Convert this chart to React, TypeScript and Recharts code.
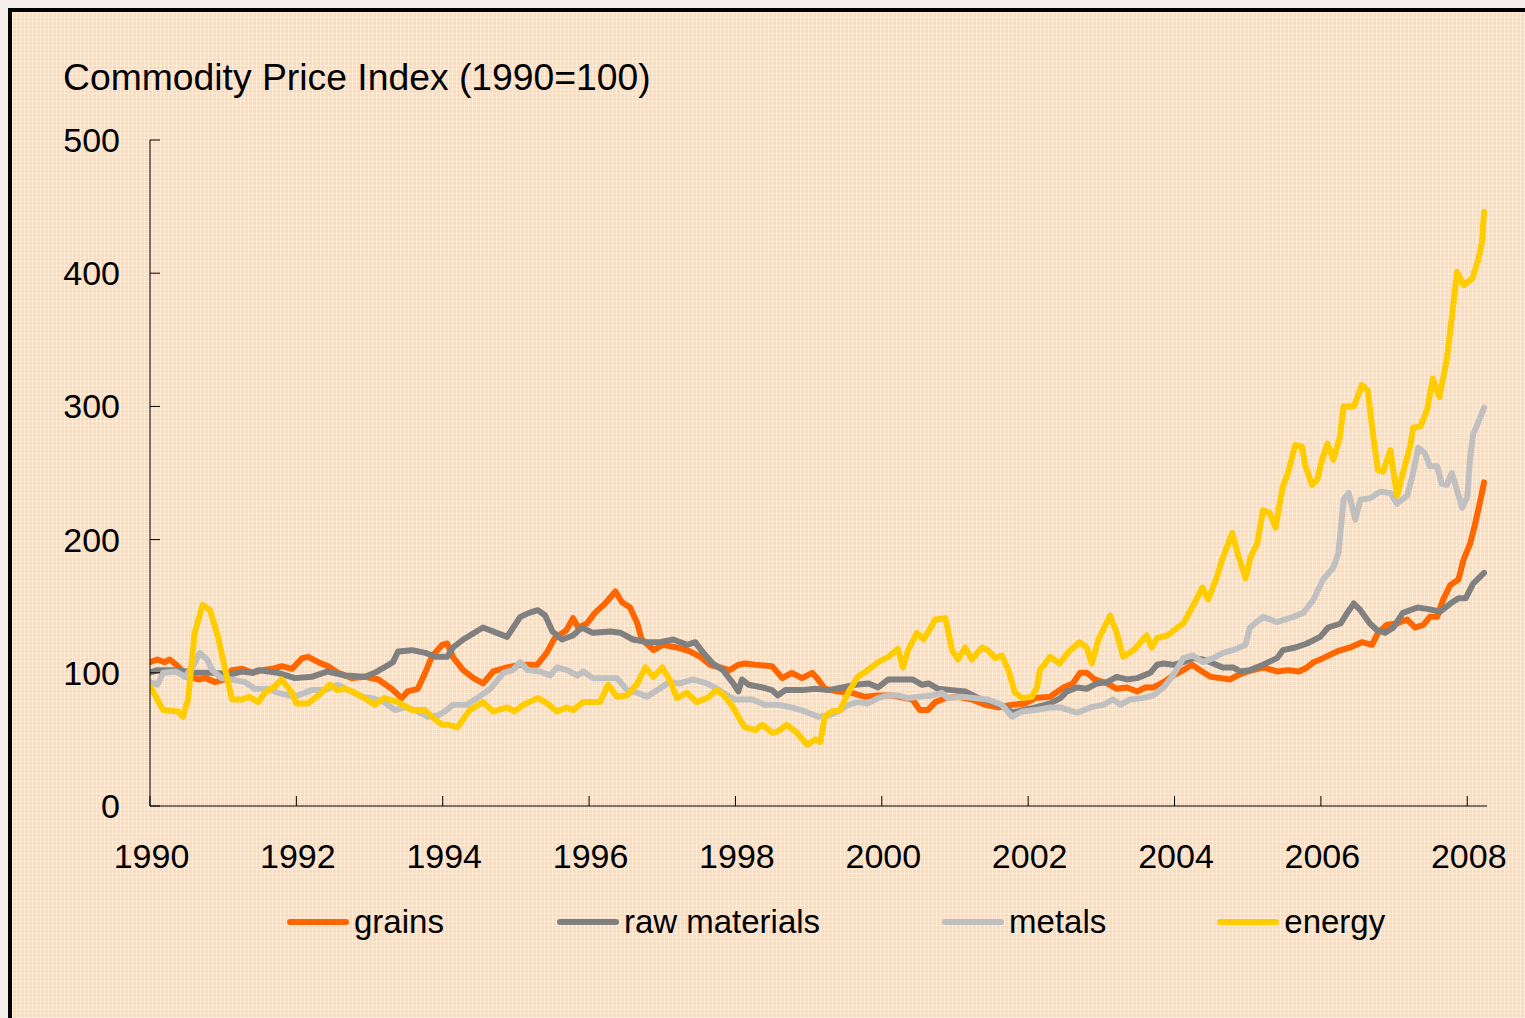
import React from "react";
import { LineChart, Line, XAxis, YAxis } from "recharts";

const yearTicks = [1990, 1992, 1994, 1996, 1998, 2000, 2002, 2004, 2006, 2008];
const valueTicks = [0, 100, 200, 300, 400, 500];

const seriesNames = ["grains", "raw materials", "metals", "energy"];
const seriesColors = ["#FF6600", "#808080", "#C0C0C0", "#FFCC00"];

const grains: [number, number][] = [
  [1990.0,108],[1990.1,110],[1990.2,108],[1990.27,110],[1990.38,105],[1990.52,97],[1990.66,95],[1990.76,96],[1990.89,93],[1991.02,95],[1991.12,102],[1991.26,103],[1991.4,100],[1991.53,102],[1991.67,103],[1991.8,105],[1991.94,103],[1992.08,111],[1992.16,112],[1992.3,108],[1992.43,105],[1992.57,100],[1992.76,96],[1992.94,97],[1993.12,95],[1993.3,88],[1993.44,81],[1993.52,86],[1993.66,88],[1993.76,100],[1993.85,112],[1993.99,121],[1994.06,122],[1994.15,111],[1994.28,102],[1994.42,96],[1994.55,92],[1994.69,101],[1994.88,104],[1995.06,106],[1995.29,106],[1995.42,115],[1995.53,126],[1995.69,132],[1995.78,141],[1995.85,134],[1995.97,137],[1996.08,145],[1996.22,152],[1996.36,161],[1996.45,153],[1996.56,149],[1996.66,137],[1996.72,125],[1996.88,117],[1997.01,121],[1997.2,119],[1997.38,116],[1997.52,112],[1997.65,106],[1997.79,104],[1997.92,102],[1998.04,106],[1998.13,107],[1998.27,106],[1998.5,105],[1998.64,96],[1998.77,100],[1998.91,96],[1999.05,100],[1999.13,95],[1999.22,88],[1999.4,86],[1999.59,85],[1999.77,82],[1999.95,83],[2000.14,83],[2000.32,81],[2000.42,80],[2000.52,72],[2000.63,72],[2000.73,78],[2000.87,81],[2001.04,82],[2001.23,80],[2001.41,76],[2001.59,74],[2001.78,76],[2001.96,77],[2002.1,81],[2002.3,82],[2002.48,89],[2002.61,92],[2002.71,100],[2002.8,100],[2002.91,95],[2003.08,92],[2003.21,88],[2003.35,89],[2003.49,86],[2003.6,89],[2003.71,89],[2003.85,93],[2003.98,98],[2004.12,102],[2004.24,106],[2004.35,102],[2004.49,97],[2004.63,96],[2004.76,95],[2004.86,98],[2004.99,101],[2005.21,104],[2005.4,101],[2005.55,102],[2005.7,101],[2005.81,104],[2005.9,108],[2006.03,111],[2006.22,116],[2006.4,119],[2006.56,123],[2006.7,121],[2006.78,130],[2006.9,136],[2007.04,137],[2007.18,140],[2007.29,134],[2007.4,136],[2007.49,142],[2007.59,142],[2007.67,155],[2007.77,166],[2007.88,170],[2007.95,185],[2008.04,197],[2008.1,210],[2008.17,227],[2008.23,243]
];

const rawMaterials: [number, number][] = [
  [1990,100],[1990.1,102],[1990.38,102],[1990.6,100],[1990.85,100],[1991.12,99],[1991.26,101],[1991.4,100],[1991.48,102],[1991.62,101],[1991.75,100],[1991.98,96],[1992.21,97],[1992.43,101],[1992.67,98],[1992.94,97],[1993.07,100],[1993.2,104],[1993.32,108],[1993.39,116],[1993.58,117],[1993.76,115],[1993.9,112],[1994.06,112],[1994.14,119],[1994.28,125],[1994.55,134],[1994.88,127],[1995.06,142],[1995.18,145],[1995.3,147],[1995.4,143],[1995.5,131],[1995.63,125],[1995.78,128],[1995.9,134],[1996.05,130],[1996.29,131],[1996.43,130],[1996.6,125],[1996.79,123],[1996.97,123],[1997.15,125],[1997.34,121],[1997.45,123],[1997.56,115],[1997.69,107],[1997.83,102],[1997.97,92],[1998.04,86],[1998.09,95],[1998.18,91],[1998.37,89],[1998.5,87],[1998.58,83],[1998.68,87],[1998.91,87],[1999.09,88],[1999.27,87],[1999.46,89],[1999.64,91],[1999.82,92],[1999.95,89],[2000.09,95],[2000.28,95],[2000.42,95],[2000.55,91],[2000.64,92],[2000.77,88],[2000.96,87],[2001.14,86],[2001.32,81],[2001.51,78],[2001.69,74],[2001.78,70],[2001.92,72],[2002.1,74],[2002.3,77],[2002.44,81],[2002.53,86],[2002.67,89],[2002.8,88],[2002.94,92],[2003.08,93],[2003.21,97],[2003.35,95],[2003.49,96],[2003.67,100],[2003.76,106],[2003.85,107],[2003.98,106],[2004.12,108],[2004.25,111],[2004.39,110],[2004.53,107],[2004.66,104],[2004.8,104],[2004.9,101],[2005.03,102],[2005.21,106],[2005.4,111],[2005.48,117],[2005.65,119],[2005.81,122],[2005.99,127],[2006.1,134],[2006.27,137],[2006.36,145],[2006.45,152],[2006.54,147],[2006.67,137],[2006.77,132],[2006.88,130],[2006.99,134],[2007.12,145],[2007.32,149],[2007.45,148],[2007.63,146],[2007.77,152],[2007.88,156],[2007.98,156],[2008.08,167],[2008.23,175]
];

const metals: [number, number][] = [
  [1990,93],[1990.1,91],[1990.18,100],[1990.35,101],[1990.48,97],[1990.61,107],[1990.68,115],[1990.78,110],[1990.85,102],[1990.98,96],[1991.12,95],[1991.3,93],[1991.43,88],[1991.61,88],[1991.75,85],[1991.89,83],[1992.02,83],[1992.21,87],[1992.39,87],[1992.57,91],[1992.71,87],[1992.9,82],[1993.03,81],[1993.2,78],[1993.35,72],[1993.48,74],[1993.62,72],[1993.8,67],[1993.94,68],[1994.03,71],[1994.14,76],[1994.33,76],[1994.47,81],[1994.65,88],[1994.83,100],[1994.96,102],[1995.06,108],[1995.16,102],[1995.33,101],[1995.47,98],[1995.56,104],[1995.7,102],[1995.84,98],[1995.92,101],[1996.05,96],[1996.24,96],[1996.38,96],[1996.52,87],[1996.66,85],[1996.79,82],[1996.93,87],[1997.1,93],[1997.24,92],[1997.42,95],[1997.61,92],[1997.75,88],[1997.92,82],[1997.99,80],[1998.23,80],[1998.4,76],[1998.58,76],[1998.77,74],[1998.95,71],[1999.13,67],[1999.27,68],[1999.4,71],[1999.54,76],[1999.67,78],[1999.81,77],[1999.95,81],[2000.09,83],[2000.22,83],[2000.36,81],[2000.5,82],[2000.69,83],[2000.82,85],[2000.9,81],[2001.1,82],[2001.27,81],[2001.45,80],[2001.64,76],[2001.78,67],[2001.92,71],[2002.1,72],[2002.3,74],[2002.44,74],[2002.67,70],[2002.85,74],[2003.03,76],[2003.16,80],[2003.26,76],[2003.39,80],[2003.56,81],[2003.71,83],[2003.85,89],[2003.98,98],[2004.12,111],[2004.25,113],[2004.39,108],[2004.53,111],[2004.66,115],[2004.8,117],[2004.97,121],[2005.03,134],[2005.21,142],[2005.4,138],[2005.62,142],[2005.76,145],[2005.9,155],[2006.03,170],[2006.17,179],[2006.24,190],[2006.31,230],[2006.38,235],[2006.47,215],[2006.54,230],[2006.67,231],[2006.81,236],[2006.95,235],[2007.04,227],[2007.18,233],[2007.26,250],[2007.33,269],[2007.42,265],[2007.49,255],[2007.59,255],[2007.65,242],[2007.72,241],[2007.79,250],[2007.86,237],[2007.93,224],[2008.0,232],[2008.04,262],[2008.08,279],[2008.15,288],[2008.23,299]
];

const energy: [number, number][] = [
  [1990,90],[1990.1,80],[1990.18,72],[1990.38,71],[1990.45,67],[1990.52,80],[1990.61,130],[1990.72,151],[1990.82,147],[1990.93,127],[1991.03,102],[1991.12,80],[1991.26,80],[1991.35,82],[1991.48,78],[1991.57,85],[1991.71,90],[1991.8,95],[1991.94,85],[1992.0,77],[1992.16,77],[1992.3,83],[1992.46,91],[1992.56,87],[1992.67,88],[1992.76,86],[1992.9,82],[1993.07,76],[1993.2,81],[1993.39,78],[1993.58,72],[1993.76,72],[1993.85,67],[1993.99,61],[1994.08,61],[1994.2,59],[1994.37,72],[1994.55,78],[1994.69,71],[1994.88,74],[1994.98,71],[1995.1,76],[1995.3,81],[1995.43,77],[1995.56,71],[1995.69,74],[1995.78,72],[1995.92,78],[1996.15,78],[1996.26,91],[1996.38,82],[1996.52,83],[1996.66,92],[1996.77,104],[1996.88,97],[1997.0,104],[1997.1,95],[1997.2,81],[1997.34,85],[1997.47,78],[1997.61,81],[1997.75,87],[1997.84,83],[1997.97,74],[1998.06,65],[1998.13,59],[1998.27,57],[1998.37,61],[1998.5,55],[1998.58,56],[1998.7,61],[1998.84,55],[1998.98,46],[1999.09,50],[1999.16,48],[1999.22,67],[1999.32,71],[1999.43,72],[1999.54,85],[1999.67,97],[1999.81,102],[1999.95,108],[2000.09,112],[2000.22,118],[2000.29,104],[2000.36,117],[2000.48,130],[2000.57,125],[2000.69,136],[2000.73,140],[2000.87,141],[2000.96,117],[2001.04,110],[2001.14,119],[2001.23,110],[2001.37,119],[2001.45,117],[2001.55,111],[2001.64,113],[2001.73,102],[2001.82,85],[2001.92,81],[2002.05,82],[2002.12,89],[2002.16,102],[2002.3,112],[2002.43,107],[2002.54,115],[2002.7,123],[2002.8,119],[2002.87,107],[2002.96,125],[2003.12,143],[2003.21,130],[2003.3,112],[2003.44,117],[2003.62,128],[2003.69,119],[2003.76,126],[2003.9,128],[2004.04,134],[2004.12,137],[2004.21,146],[2004.27,152],[2004.38,164],[2004.46,155],[2004.58,172],[2004.65,185],[2004.79,205],[2004.86,190],[2004.97,171],[2005.04,187],[2005.13,197],[2005.21,222],[2005.3,220],[2005.38,209],[2005.48,240],[2005.55,250],[2005.65,271],[2005.74,270],[2005.79,255],[2005.88,241],[2005.95,245],[2006.02,261],[2006.09,272],[2006.17,260],[2006.26,277],[2006.31,300],[2006.45,300],[2006.56,316],[2006.64,312],[2006.71,280],[2006.78,252],[2006.85,251],[2006.95,267],[2007.04,233],[2007.13,252],[2007.22,270],[2007.26,284],[2007.36,285],[2007.45,297],[2007.53,321],[2007.62,307],[2007.72,335],[2007.79,367],[2007.86,401],[2007.95,391],[2008.07,396],[2008.15,410],[2008.2,423],[2008.23,446]
];

const allSeries = [grains, rawMaterials, metals, energy];

const FONT = "'Liberation Sans', Arial, sans-serif";

const XTick = (props: any) => {
  const { x, y, payload } = props;
  return (
    <g>
      <line x1={x} x2={x} y1={y} y2={y - 10} stroke="#000" strokeWidth={1} />
      <text x={x + 1.5} y={y + 62} textAnchor="middle" fontFamily={FONT} fontSize={34} fill="#000">
        {payload.value}
      </text>
    </g>
  );
};

const YTick = (props: any) => {
  const { x, y, payload } = props;
  return (
    <g>
      <line x1={x} x2={x + 10} y1={y} y2={y} stroke="#000" strokeWidth={1} />
      <text x={x - 30} y={y + 12} textAnchor="end" fontFamily={FONT} fontSize={34} fill="#000">
        {payload.value}
      </text>
    </g>
  );
};

const bg =
  "repeating-linear-gradient(90deg, rgba(255,250,244,0.5) 0px, rgba(255,250,244,0.5) 1px, transparent 1px, transparent 4px)," +
  "repeating-linear-gradient(0deg, rgba(255,250,244,0.5) 0px, rgba(255,250,244,0.5) 1px, transparent 1px, transparent 4px)," +
  "#F9DBBE";

const legendGaps = [0, 113, 122, 111];

export default function App() {
  const lineData = allSeries.map((s) => s.map(([x, v]) => ({ x, v })));
  return (
    <div style={{ position: "fixed", inset: 0, background: "#F4EFEB", overflow: "hidden" }}>
      <div
        style={{
          position: "absolute",
          left: 8,
          top: 8,
          width: 1517,
          height: 1010,
          boxSizing: "border-box",
          borderLeft: "4px solid #000",
          borderTop: "4px solid #000",
          background: bg,
        }}
      >
        <div
          style={{
            position: "absolute",
            left: 51,
            top: 47,
            fontFamily: FONT,
            fontSize: 37.3,
            lineHeight: 1,
            color: "#000",
            whiteSpace: "nowrap",
          }}
        >
          Commodity Price Index (1990=100)
        </div>
        <div style={{ position: "absolute", left: 0, top: 0 }}>
          <LineChart width={1513} height={900} margin={{ top: 128, right: 38, left: 0, bottom: 0 }}>
            <XAxis
              type="number"
              dataKey="x"
              domain={[1990, 2008.27]}
              ticks={yearTicks}
              interval={0}
              allowDataOverflow
              height={106}
              tickSize={0}
              tickMargin={0}
              tickLine={false}
              axisLine={{ stroke: "#000", strokeWidth: 1 }}
              tick={<XTick />}
            />
            <YAxis
              type="number"
              domain={[0, 500]}
              ticks={valueTicks}
              interval={0}
              width={138}
              tickSize={0}
              tickMargin={0}
              tickLine={false}
              axisLine={{ stroke: "#000", strokeWidth: 1 }}
              tick={<YTick />}
            />
            {lineData.map((d, i) => (
              <Line
                key={seriesNames[i]}
                data={d}
                dataKey="v"
                name={seriesNames[i]}
                type="linear"
                stroke={seriesColors[i]}
                strokeWidth={6}
                strokeLinejoin="round"
                strokeLinecap="round"
                dot={false}
                activeDot={false}
                isAnimationActive={false}
              />
            ))}
          </LineChart>
        </div>
        <div
          style={{
            position: "absolute",
            left: 275,
            top: 893,
            display: "flex",
            alignItems: "center",
            fontFamily: FONT,
            fontSize: 33,
            lineHeight: 1,
            color: "#000",
            whiteSpace: "nowrap",
          }}
        >
          {seriesNames.map((n, i) => (
            <div key={n} style={{ display: "flex", alignItems: "center", marginLeft: legendGaps[i] }}>
              <svg width={62} height={10} style={{ display: "block" }}>
                <line x1={3} x2={59} y1={5} y2={5} stroke={seriesColors[i]} strokeWidth={6} strokeLinecap="round" />
              </svg>
              <span style={{ marginLeft: 5 }}>{n}</span>
            </div>
          ))}
        </div>
      </div>
    </div>
  );
}
